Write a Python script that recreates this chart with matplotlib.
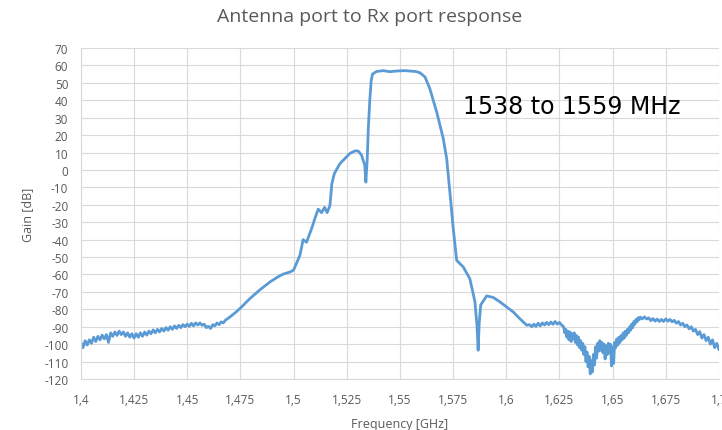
"""Antenna port to Rx port response, redrawn from an Excel screenshot."""

import matplotlib

matplotlib.use("Agg")

import matplotlib.pyplot as plt
from matplotlib.ticker import FuncFormatter, MultipleLocator

# --- data (GHz, dB) ---
# noisy floor below the passband
freq_floor = [1.400, 1.401, 1.402, 1.403, 1.404, 1.405, 1.406, 1.407, 1.408, 1.409,
              1.410, 1.411, 1.412, 1.413, 1.414, 1.415, 1.416, 1.417, 1.418, 1.419,
              1.420, 1.421, 1.422, 1.423, 1.424, 1.425, 1.426, 1.427, 1.428, 1.429,
              1.430, 1.431, 1.432, 1.433, 1.434, 1.435, 1.436, 1.437, 1.438, 1.439,
              1.440, 1.441, 1.442, 1.443, 1.444, 1.445, 1.446, 1.447, 1.448, 1.449,
              1.450, 1.451, 1.452, 1.453, 1.454, 1.455, 1.456, 1.457, 1.458, 1.459,
              1.460, 1.461, 1.462, 1.463, 1.464, 1.465, 1.466, 1.467, 1.468]
gain_floor = [-99.0, -102.0, -98.0, -100.5, -97.5, -99.5, -96.0, -98.5, -95.5, -97.5,
              -94.8, -97.0, -94.5, -99.0, -93.5, -95.5, -93.0, -95.0, -92.5, -94.5,
              -93.0, -95.5, -93.5, -96.0, -94.0, -96.5, -94.0, -96.0, -93.5, -95.5,
              -93.0, -94.8, -92.5, -94.0, -91.8, -93.5, -91.5, -93.0, -91.0, -92.5,
              -90.5, -92.0, -90.0, -91.5, -89.5, -91.0, -89.2, -90.5, -88.8, -90.0,
              -88.5, -89.8, -88.0, -89.5, -87.8, -89.0, -87.8, -89.2, -88.5, -90.5,
              -89.8, -91.0, -88.8, -89.5, -87.8, -88.8, -87.2, -87.8, -86.2]

# smooth rise, passband and upper skirt
freq_band = [1.4700, 1.4730, 1.4756, 1.4795, 1.4845, 1.4889, 1.4925, 1.4951, 1.4985,
             1.5000, 1.5030, 1.5045, 1.5061, 1.5085, 1.5100, 1.5116, 1.5132, 1.5146,
             1.5158, 1.5171, 1.5180, 1.5192, 1.5218, 1.5245, 1.5265, 1.5290, 1.5305,
             1.5320, 1.5335, 1.5340, 1.5346, 1.5352, 1.5359, 1.5365, 1.5371, 1.5390,
             1.5421, 1.5453, 1.5484, 1.5520, 1.5547, 1.5575, 1.5594, 1.5618, 1.5641,
             1.5673, 1.5704, 1.5720, 1.5735, 1.5751, 1.5767, 1.5798, 1.5829, 1.5853,
             1.5863, 1.5868, 1.5873, 1.5880, 1.5908, 1.5939, 1.5970, 1.6000, 1.6033,
             1.6065, 1.6096]
gain_band = [-84.5, -81.5, -78.6, -73.8, -68.5, -64.3, -61.5, -59.8, -58.5,
             -57.5, -49.0, -40.0, -41.5, -33.7, -28.0, -22.5, -24.5, -21.5,
             -24.5, -20.5, -8.0, -2.0, 3.6, 7.0, 9.5, 11.0, 10.8,
             8.4, 2.6, -7.0, 5.0, 25.0, 41.0, 51.0, 55.0, 56.5,
             57.0, 56.4, 56.8, 57.0, 56.8, 56.5, 55.8, 53.4, 46.6,
             33.3, 18.0, 6.5, -12.6, -33.7, -51.9, -55.7, -62.4, -75.7,
             -90.0, -103.5, -88.0, -77.5, -72.3, -73.2, -75.7, -78.5, -81.5,
             -85.5, -89.1]

# noisy region above the band
freq_upper = [1.6110, 1.6120, 1.6130, 1.6140, 1.6150, 1.6160, 1.6170, 1.6180, 1.6190,
              1.6200, 1.6210, 1.6220, 1.6230, 1.6240, 1.6250, 1.6260,
              1.6270, 1.6275, 1.6280, 1.6285, 1.6290, 1.6295, 1.6300, 1.6305, 1.6310,
              1.6315, 1.6320, 1.6325, 1.6330, 1.6335, 1.6340, 1.6345, 1.6350, 1.6355,
              1.6360, 1.6365, 1.6370, 1.6375, 1.6380, 1.6385, 1.6390, 1.6395, 1.6400,
              1.6405, 1.6410, 1.6415, 1.6420, 1.6425, 1.6430, 1.6435, 1.6440, 1.6445,
              1.6450, 1.6455, 1.6460, 1.6465, 1.6470, 1.6475, 1.6480, 1.6485, 1.6490,
              1.6495, 1.6500, 1.6505, 1.6510, 1.6515, 1.6520, 1.6525, 1.6530, 1.6535,
              1.6540, 1.6545, 1.6550, 1.6555, 1.6560, 1.6565, 1.6570, 1.6575, 1.6580,
              1.6585, 1.6590, 1.6595, 1.6600, 1.6605, 1.6610, 1.6615, 1.6620, 1.6625,
              1.6630, 1.6640, 1.6650, 1.6660, 1.6670,
              1.668, 1.669, 1.670, 1.671, 1.672, 1.673, 1.674, 1.675, 1.676, 1.677,
              1.678, 1.679, 1.680, 1.681, 1.682, 1.683, 1.684, 1.685, 1.686, 1.687,
              1.688, 1.689, 1.690, 1.691, 1.692, 1.693, 1.694, 1.695, 1.696, 1.697,
              1.698, 1.699, 1.700]
gain_upper = [-88.8, -90.0, -88.5, -89.8, -88.0, -89.5, -87.8, -89.0, -87.5,
              -88.8, -87.3, -88.6, -87.0, -88.5, -87.5, -89.0,
              -90.0, -93.5, -91.5, -96.0, -92.5, -97.5, -93.0, -98.5, -94.0,
              -97.0, -93.5, -99.0, -95.0, -100.5, -96.0, -102.0, -98.0, -103.5,
              -99.5, -106.0, -101.5, -110.0, -104.5, -113.0, -107.0, -117.0, -109.5,
              -116.0, -106.0, -112.0, -101.5, -108.0, -99.5, -104.0, -98.0, -103.5,
              -99.0, -105.0, -100.0, -108.5, -101.0, -106.0, -99.5, -105.0, -100.0,
              -112.5, -101.5, -111.0, -99.0, -102.0, -97.0, -100.5, -96.0, -99.0,
              -95.0, -97.5, -93.5, -96.5, -92.5, -95.0, -91.5, -93.5, -90.0,
              -92.0, -88.5, -90.5, -87.0, -88.5, -85.8, -87.2, -84.8, -86.0,
              -84.5, -85.5, -84.3, -85.6, -84.9,
              -86.5, -85.3, -86.8, -85.6, -87.0, -85.8, -87.0, -85.5, -86.8, -85.8,
              -87.2, -86.3, -88.0, -87.0, -89.0, -88.0, -90.0, -89.0, -91.2, -90.0,
              -92.5, -91.5, -94.5, -92.8, -96.5, -94.5, -98.0, -96.0, -100.0, -97.5,
              -102.0, -99.5, -103.0]

freq = freq_floor + freq_band + freq_upper
gain = gain_floor + gain_band + gain_upper

TITLE = "Antenna port to Rx port response"
X_LABEL = "Frequency [GHz]"
Y_LABEL = "Gain [dB]"
NOTE = "1538 to 1559 MHz"

LINE_COLOR = "#5b9bd5"
GRID_COLOR = "#d9d9d9"
TEXT_GRAY = "#595959"

plt.rcParams["font.family"] = ["Open Sans", "DejaVu Sans"]

fig = plt.figure(figsize=(7.22, 4.31), dpi=100)
ax = fig.add_axes([0.112, 0.1183, 0.8837, 0.768])

ax.plot(freq, gain, color=LINE_COLOR, linewidth=2.0, solid_joinstyle="round")

ax.set_xlim(1.4, 1.7)
ax.set_ylim(-120, 70)
ax.xaxis.set_major_locator(MultipleLocator(0.025))
ax.yaxis.set_major_locator(MultipleLocator(10))
ax.xaxis.set_major_formatter(
    FuncFormatter(lambda v, _: f"{v:.3f}".rstrip("0").rstrip(".").replace(".", ","))
)
ax.yaxis.set_major_formatter(FuncFormatter(lambda v, _: f"{v:.0f}"))

ax.grid(True, color=GRID_COLOR, linewidth=0.8)
ax.set_axisbelow(True)
for side in ax.spines.values():
    side.set_visible(False)
ax.spines["left"].set_visible(True)
ax.spines["left"].set_color(GRID_COLOR)
ax.spines["bottom"].set_visible(True)
ax.spines["bottom"].set_color(GRID_COLOR)

ax.tick_params(length=0, labelsize=8.5, labelcolor=TEXT_GRAY)
ax.tick_params(axis="x", pad=10)
ax.tick_params(axis="y", pad=9)

ax.set_xlabel(X_LABEL, fontsize=9, color=TEXT_GRAY, labelpad=8)
ax.set_ylabel(Y_LABEL, fontsize=9, color=TEXT_GRAY, labelpad=7)

fig.text(0.512, 1 - 17 / 431, TITLE, ha="center", va="center",
         fontsize=14, color=TEXT_GRAY)
ax.text(1.5796, 36.9, NOTE, ha="left", va="center", fontsize=17,
        color="black", family=["DejaVu Sans"])

fig.savefig("out.png", dpi=100, facecolor="white")
